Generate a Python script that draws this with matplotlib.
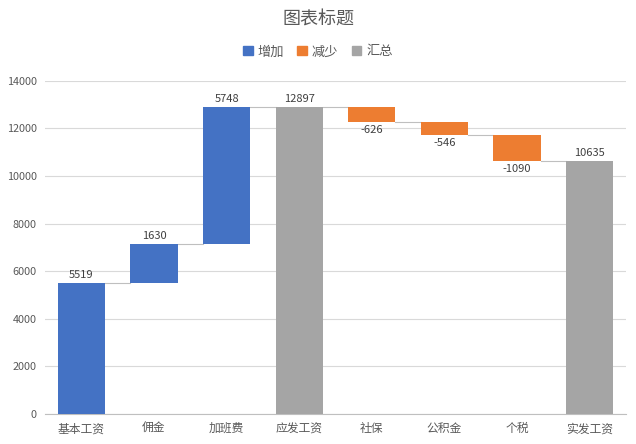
import numpy as np
import matplotlib
matplotlib.use('Agg')
import matplotlib.pyplot as plt
from matplotlib.patches import Patch

plt.rcParams['font.family'] = ['Noto Sans CJK SC', 'DejaVu Sans']

# 数据
categories = ['基本工资', '佣金', '加班费', '应发工资', '社保', '公积金', '个税', '实发工资']
values = [5519, 1630, 5748, 12897, -626, -546, -1090, 10635]
kinds = ['增加', '增加', '增加', '汇总', '减少', '减少', '减少', '汇总']
y_ticks = [0, 2000, 4000, 6000, 8000, 10000, 12000, 14000]

colors = {'增加': '#4472C4', '减少': '#ED7D31', '汇总': '#A5A5A5'}
text_color = '#595959'

fig = plt.figure(figsize=(6.36, 4.44), dpi=100)
ax = fig.add_axes([0.071, 0.068, 0.913, 0.75])

x = np.arange(len(categories))
width = 0.65

# calcular bases y niveles
bottoms = []
heights = []
levels = []
running = 0
for v, k in zip(values, kinds):
    if k == '汇总':
        bottoms.append(0)
        heights.append(v)
        running = v
    elif v >= 0:
        bottoms.append(running)
        heights.append(v)
        running += v
    else:
        bottoms.append(running + v)
        heights.append(-v)
        running += v
    levels.append(running)

ax.bar(x, heights, width, bottom=bottoms,
       color=[colors[k] for k in kinds], zorder=3)

# líneas de conexión
for i in range(len(x) - 1):
    ax.plot([x[i] + width / 2, x[i + 1] - width / 2], [levels[i], levels[i]],
            color='#BFBFBF', lw=0.8, zorder=2)

# etiquetas
for i, (v, k) in enumerate(zip(values, kinds)):
    if v < 0:
        ax.text(x[i], bottoms[i] - 120, str(v), ha='center', va='top',
                fontsize=8, color='#404040')
    else:
        ax.text(x[i], bottoms[i] + heights[i] + 120, str(v), ha='center', va='bottom',
                fontsize=8, color='#404040')

ax.set_xlim(-0.5, len(x) - 0.5)
ax.set_ylim(0, 14000)
ax.set_yticks(y_ticks)
ax.set_yticklabels([str(t) for t in y_ticks])
ax.set_xticks(x)
ax.set_xticklabels(categories)
ax.tick_params(axis='both', length=0, colors=text_color, labelsize=7.8)
ax.tick_params(axis='x', labelsize=8.5, pad=6)
ax.tick_params(axis='y', pad=6)
ax.yaxis.grid(True, color='#D9D9D9', lw=0.8, zorder=0)
for s in ['left', 'right', 'top']:
    ax.spines[s].set_visible(False)
ax.spines['bottom'].set_color('#BFBFBF')

fig.text(0.5, 0.955, '图表标题', ha='center', va='center', fontsize=13, color=text_color)

handles = [Patch(color=colors[k]) for k in ['增加', '减少', '汇总']]
fig.legend(handles, ['增加', '减少', '汇总'], loc='center', bbox_to_anchor=(0.5, 0.883),
           ncol=3, frameon=False, fontsize=9.5, handlelength=0.7, handleheight=0.7,
           handletextpad=0.4, columnspacing=1.0, labelcolor=text_color)

fig.savefig('out.png', dpi=100)
